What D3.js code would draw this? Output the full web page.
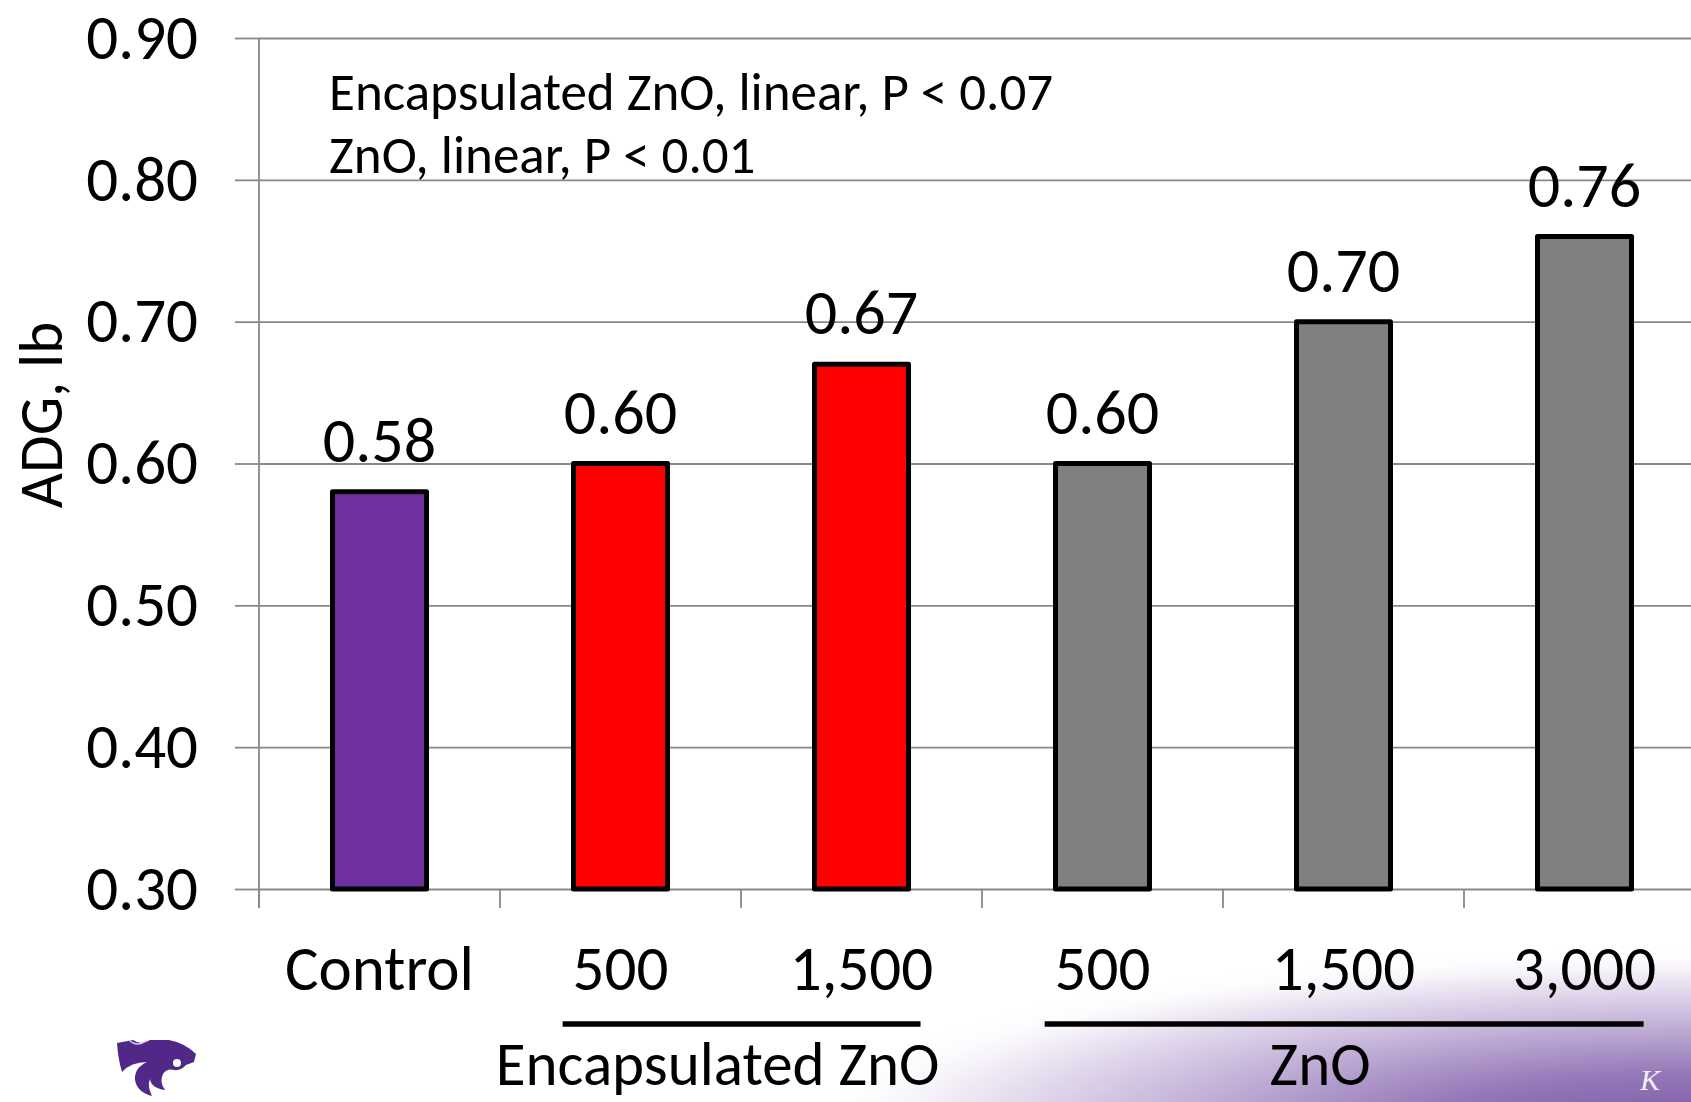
<!DOCTYPE html>
<html>
<head>
<meta charset="utf-8">
<script src="https://cdn.jsdelivr.net/npm/d3@7"></script>
<style>
  html, body { margin: 0; padding: 0; background: #ffffff; overflow: hidden; }
  svg { display: block; font-family: Carlito, Lato, "Open Sans", sans-serif; }
</style>
</head>
<body>
<svg id="chart" width="1691" height="1102"></svg>
<script>
// Average daily gain by zinc oxide source and level
const categories = ["Control", "500", "1,500", "500", "1,500", "3,000"];
const groups = ["Control", "Encapsulated ZnO", "Encapsulated ZnO", "ZnO", "ZnO", "ZnO"];
const adg = [0.58, 0.60, 0.67, 0.60, 0.70, 0.76];
const valueLabels = ["0.58", "0.60", "0.67", "0.60", "0.70", "0.76"];
const yTicks = [0.30, 0.40, 0.50, 0.60, 0.70, 0.80, 0.90];
const groupNames = ["Control", "Encapsulated ZnO", "ZnO"];
const groupColors = ["#7030A0", "#FF0000", "#808080"];
const notes = ["Encapsulated ZnO, linear, P < 0.07", "ZnO, linear, P < 0.01"];
const yTitle = "ADG, lb";

const svg = d3.select("#chart");
const W = 1691, H = 1102;
const FONT = "Carlito, Lato, sans-serif";

const plotLeft = 259, plotTop = 38, plotBottom = 889;
const bandStep = 241;
const plotRight = plotLeft + bandStep * categories.length;

const x = d3.scaleBand().domain(d3.range(categories.length)).range([plotLeft, plotRight]).padding(0);
const y = d3.scaleLinear().domain([0.30, 0.90]).range([plotBottom, plotTop]);
const color = d3.scaleOrdinal().domain(groupNames).range(groupColors);

// soft purple glow in the lower right corner
const defs = svg.append("defs");
const glow = defs.append("radialGradient").attr("id", "cornerGlow")
  .attr("cx", "1").attr("cy", "1.15").attr("r", "1.05");
glow.append("stop").attr("offset", "0").attr("stop-color", "#7a58a4");
glow.append("stop").attr("offset", "0.3").attr("stop-color", "#9478b8");
glow.append("stop").attr("offset", "0.62").attr("stop-color", "#cbbbdd");
glow.append("stop").attr("offset", "0.85").attr("stop-color", "#f1ecf6");
glow.append("stop").attr("offset", "1").attr("stop-color", "#ffffff").attr("stop-opacity", 0);
svg.append("rect")
  .attr("x", 840).attr("y", 930).attr("width", W - 840).attr("height", H - 930)
  .attr("fill", "url(#cornerGlow)");

// horizontal gridlines
svg.append("g")
  .attr("transform", `translate(${plotLeft},0)`)
  .call(d3.axisLeft(y).tickValues(yTicks).tickSize(-(plotRight - plotLeft)).tickFormat(""))
  .call(g => g.select(".domain").remove())
  .call(g => g.selectAll("line").attr("stroke", "#888888").attr("stroke-width", 1.8));

// y axis with outward ticks and labels
svg.append("g")
  .attr("transform", `translate(${plotLeft},0)`)
  .call(d3.axisLeft(y).tickValues(yTicks).tickSize(24).tickSizeOuter(0).tickPadding(37)
    .tickFormat(d3.format(".2f")))
  .call(g => g.select(".domain").attr("stroke", "#888888").attr("stroke-width", 1.8)
    .attr("d", `M0,${plotTop}V${plotBottom + 19}`))
  .call(g => g.selectAll(".tick line").attr("stroke", "#888888").attr("stroke-width", 1.8))
  .call(g => g.selectAll("text").attr("fill", "#000").attr("font-size", 63)
    .attr("font-family", FONT));

// category separators below the baseline
const boundaries = d3.range(categories.length + 1).map(i => plotLeft + i * x.step());
svg.append("g").selectAll("line").data(boundaries).join("line")
  .attr("x1", d => d).attr("x2", d => d)
  .attr("y1", plotBottom).attr("y2", plotBottom + 19)
  .attr("stroke", "#888888").attr("stroke-width", 1.8);

// category labels
svg.append("g")
  .attr("transform", `translate(0,${plotBottom})`)
  .call(d3.axisBottom(x).tickSize(0).tickFormat(i => categories[i]))
  .call(g => g.select(".domain").remove())
  .call(g => g.selectAll("text").attr("y", 101).attr("dy", 0).attr("fill", "#000")
    .attr("font-size", 63).attr("font-family", FONT));

// bars
const barW = x.bandwidth() * 0.39;
svg.append("g").selectAll("rect").data(adg).join("rect")
  .attr("x", (d, i) => x(i) + (x.bandwidth() - barW) / 2)
  .attr("y", d => y(d))
  .attr("width", barW)
  .attr("height", d => y(0.30) - y(d))
  .attr("fill", (d, i) => color(groups[i]))
  .attr("stroke", "#000").attr("stroke-width", 5).attr("stroke-linejoin", "round");

// value labels
svg.append("g").selectAll("text").data(adg).join("text")
  .attr("x", (d, i) => x(i) + x.bandwidth() / 2)
  .attr("y", d => y(d) - 30)
  .attr("text-anchor", "middle")
  .attr("font-size", 64)
  .attr("fill", "#000")
  .text((d, i) => valueLabels[i]);

// group brackets and names
const spans = groupNames.slice(1).map(name => {
  const idx = groups.map((g, i) => g === name ? i : -1).filter(i => i >= 0);
  return { name, first: d3.min(idx), last: d3.max(idx) };
});
const bracket = svg.append("g");
spans.forEach(s => {
  const x0 = x(s.first) + x.bandwidth() * 0.26;
  const x1 = x(s.last) + x.bandwidth() * 0.745;
  bracket.append("line")
    .attr("x1", x0).attr("x2", x1).attr("y1", 1024).attr("y2", 1024)
    .attr("stroke", "#000").attr("stroke-width", 5.5);
  bracket.append("text")
    .attr("x", (x0 + x1) / 2 - 24)
    .attr("y", 1085)
    .attr("text-anchor", "middle")
    .attr("font-size", 61)
    .attr("fill", "#000")
    .text(s.name);
});

// y axis title
svg.append("text")
  .attr("transform", `translate(62,415) rotate(-90)`)
  .attr("text-anchor", "middle")
  .attr("font-size", 61)
  .attr("fill", "#000")
  .text(yTitle);

// trend notes
svg.append("g").selectAll("text").data(notes).join("text")
  .attr("x", 329)
  .attr("y", (d, i) => 110 + i * 63)
  .attr("font-size", 53)
  .attr("fill", "#000")
  .text(d => d);

// wildcat mark
const cat = svg.append("g").attr("transform", "translate(117,1037)");
cat.append("path")
  .attr("d", "M0,6 L16,3 Q24,9 33,3 L52,3 Q68,6 79,17 L77,25 L69,28 Q64,34 57,33 Q50,31 46,37 Q42,45 48,53 Q34,51 33,42 Q30,49 35,59 Q20,55 18,43 Q17,31 30,25 Q14,25 5,35 Q1,22 0,6 Z")
  .attr("fill", "#512888");
cat.append("path")
  .attr("d", "M12,3 Q20,11 30,3")
  .attr("fill", "none").attr("stroke", "#d9cce8").attr("stroke-width", 1.5);
cat.append("circle").attr("cx", 60).attr("cy", 26).attr("r", 4).attr("fill", "#ffffff");

// corner wordmark initial
svg.append("text")
  .attr("x", 1640).attr("y", 1090)
  .attr("font-family", "'Liberation Serif', 'DejaVu Serif', serif")
  .attr("font-style", "italic")
  .attr("font-size", 30)
  .attr("fill", "#f3eef8")
  .text("K");
</script>
</body>
</html>
